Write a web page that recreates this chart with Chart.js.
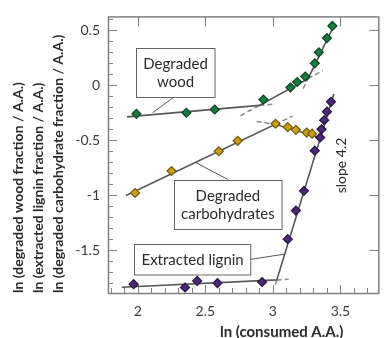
<!DOCTYPE html>
<html>
<head>
<meta charset="utf-8">
<script src="https://cdn.jsdelivr.net/npm/chart.js@4.4.0/dist/chart.umd.min.js"></script>
<style>
  html, body { margin: 0; padding: 0; background: #fff; }
  #wrap { width: 384px; height: 338px; }
</style>
</head>
<body>
<div id="wrap"><canvas id="myChart"></canvas></div>
<script>
// measured points
const woodX = [1.99, 2.36, 2.57, 2.93, 3.13, 3.18, 3.24, 3.31, 3.34, 3.40, 3.44];
const woodY = [-0.26, -0.25, -0.22, -0.13, -0.02, 0.03, 0.08, 0.20, 0.30, 0.43, 0.54];
const carbX = [1.98, 2.25, 2.60, 2.74, 3.02, 3.11, 3.17, 3.25, 3.29];
const carbY = [-0.98, -0.78, -0.60, -0.505, -0.35, -0.38, -0.405, -0.43, -0.44];
const ligninX = [1.97, 2.35, 2.44, 2.59, 2.92, 3.11, 3.17, 3.23, 3.31, 3.35, 3.36, 3.38, 3.40, 3.43];
const ligninY = [-1.81, -1.84, -1.78, -1.80, -1.79, -1.40, -1.14, -0.96, -0.595, -0.475, -0.40, -0.317, -0.24, -0.15];

// fitted segments (solid) and their dashed extensions
const woodFitX = [1.92, 2.90, 3.26, 3.46];
const woodFitY = [-0.287, -0.183, 0.061, 0.563];
const carbFitX = [1.913, 3.018, 3.32];
const carbFitY = [-1.002, -0.355, -0.466];
const ligninFitX = [1.882, 3.029, 3.451];
const ligninFitY = [-1.838, -1.771, -0.08];
const dashX = [[2.76, 2.90], [2.90, 3.01], [3.225, 3.26], [3.26, 3.37], [2.88, 3.018], [3.018, 3.145], [3.029, 3.116], [3.029, 3.011]];
const dashY = [[-0.277, -0.183], [-0.183, -0.171], [-0.03, 0.061], [0.061, 0.136], [-0.33, -0.355], [-0.355, -0.281], [-1.771, -1.766], [-1.771, -1.84]];

const xTicks = [2, 2.5, 3, 3.5];
const yTicks = [-1.5, -1, -0.5, 0, 0.5];
const yTitle = ['ln (degraded wood fraction / A.A.)', 'ln (extracted lignin fraction / A.A.)', 'ln (degraded carbohydrate fraction / A.A.)'];
const xTitle = 'ln (consumed A.A.)';

const notes = [
  { text: ['Degraded', 'wood'], at: [2.28, 0.12], lead: [[2.275, -0.10], [2.11, -0.25]] },
  { text: ['Degraded', 'carbohydrates'], at: [2.667, -1.084], lead: [[2.667, -0.857], [2.43, -0.704]] },
  { text: ['Extracted lignin'], at: [2.406, -1.581], lead: [[2.804, -1.59], [3.087, -1.536]] }
];
const slopeLabel = { text: 'slope 4.2', at: [3.51, -0.73] };

const pts = (xs, ys) => xs.map((x, i) => ({ x: x, y: ys[i] }));

function markers(xs, ys, fill, edge) {
  return { data: pts(xs, ys), showLine: false, pointStyle: 'rectRot', pointRadius: 4.5,
    backgroundColor: fill, borderColor: edge, borderWidth: 1.2 };
}
function fitLine(xs, ys) {
  return { data: pts(xs, ys), showLine: true, pointRadius: 0, borderColor: '#585858', borderWidth: 1.6 };
}

const datasets = [
  markers(woodX, woodY, '#1c7a43', '#0d4424'),
  markers(carbX, carbY, '#c89e1a', '#735808'),
  markers(ligninX, ligninY, '#4a2a76', '#261342'),
  fitLine(woodFitX, woodFitY),
  fitLine(carbFitX, carbFitY),
  fitLine(ligninFitX, ligninFitY)
];
dashX.forEach((xs, i) => {
  datasets.push({ data: pts(xs, dashY[i]), showLine: true, pointRadius: 0,
    borderColor: '#8a8a8a', borderWidth: 1.5, borderDash: [5, 3] });
});

const frame = {
  id: 'frame',
  beforeDatasetsDraw(chart) {
    const { ctx, chartArea: a, scales: { x, y } } = chart;
    ctx.save();
    ctx.strokeStyle = '#808080';
    ctx.lineWidth = 1.5;
    ctx.strokeRect(a.left + 0.5, a.top + 0.5, a.right - a.left, a.bottom - a.top);
    ctx.lineWidth = 1;
    ctx.beginPath();
    for (let i = -18; i <= 6; i++) {
      const v = i / 10, py = Math.round(y.getPixelForValue(v)) + 0.5;
      const major = yTicks.includes(v);
      ctx.moveTo(a.left, py); ctx.lineTo(a.left + (major ? 9 : 5), py);
      if (major) { ctx.moveTo(a.right, py); ctx.lineTo(a.right - 9, py); }
    }
    for (let i = 18; i <= 37; i++) {
      const v = i / 10, px = Math.round(x.getPixelForValue(v)) + 0.5;
      const major = xTicks.includes(v);
      ctx.moveTo(px, a.bottom); ctx.lineTo(px, a.bottom - (major ? 8 : 5));
      if (major) { ctx.moveTo(px, a.top); ctx.lineTo(px, a.top + 10); }
    }
    ctx.stroke();
    ctx.restore();
  },
  afterDatasetsDraw(chart) {
    const { ctx, chartArea: a, scales: { x, y } } = chart;
    ctx.save();
    ctx.font = '15px Lato';
    ctx.textAlign = 'center';
    ctx.textBaseline = 'middle';
    notes.forEach(n => {
      ctx.strokeStyle = '#555';
      ctx.lineWidth = 1;
      ctx.beginPath();
      ctx.moveTo(x.getPixelForValue(n.lead[0][0]), y.getPixelForValue(n.lead[0][1]));
      ctx.lineTo(x.getPixelForValue(n.lead[1][0]), y.getPixelForValue(n.lead[1][1]));
      ctx.stroke();
      const w = Math.max(...n.text.map(t => ctx.measureText(t).width)) + 14;
      const h = n.text.length * 18.5 + 12;
      const cx = x.getPixelForValue(n.at[0]), cy = y.getPixelForValue(n.at[1]);
      const l = Math.round(cx - w / 2) + 0.5, t = Math.round(cy - h / 2) + 0.5;
      ctx.fillStyle = '#fff';
      ctx.fillRect(l, t, w, h);
      ctx.strokeStyle = '#666';
      ctx.strokeRect(l, t, w, h);
      ctx.fillStyle = '#2b2b2b';
      n.text.forEach((s, i) => ctx.fillText(s, cx, t + 6 + 9.25 + i * 18.5));
    });
    // slope label
    ctx.save();
    ctx.translate(x.getPixelForValue(slopeLabel.at[0]), y.getPixelForValue(slopeLabel.at[1]));
    ctx.rotate(-Math.PI / 2);
    ctx.font = '14px Lato';
    ctx.fillText(slopeLabel.text, 0, 0);
    ctx.restore();
    // x axis title
    ctx.font = 'bold 15px Lato';
    ctx.fillText(xTitle, x.getPixelForValue(3.065), a.bottom + 39);
    ctx.restore();
  }
};

const ctx = document.getElementById('myChart');

new Chart(ctx, {
  type: 'scatter',
  data: { datasets: datasets },
  options: {
    responsive: true,
    maintainAspectRatio: false,
    animation: false,
    layout: { padding: { top: 15, right: 0, left: 0, bottom: 0 } },
    plugins: { legend: { display: false }, tooltip: { enabled: false } },
    scales: {
      x: {
        type: 'linear', min: 1.78, max: 3.78,
        afterBuildTicks: s => { s.ticks = xTicks.map(v => ({ value: v })); },
        afterFit: s => { s.height = 45; },
        grid: { display: false, drawTicks: false },
        border: { display: false },
        ticks: { autoSkip: false, maxRotation: 0, padding: 10, color: '#3a3a3a',
          font: { family: 'Lato', size: 14 }, callback: v => String(v) }
      },
      y: {
        type: 'linear', min: -1.89, max: 0.627,
        afterBuildTicks: s => { s.ticks = yTicks.map(v => ({ value: v })); },
        afterFit: s => { s.width = 108; },
        grid: { display: false, drawTicks: false },
        border: { display: false },
        ticks: { autoSkip: false, padding: 8, color: '#3a3a3a',
          font: { family: 'Lato', size: 14 }, callback: v => String(v) },
        title: { display: true, text: yTitle, align: 'start', color: '#2b2b2b',
          font: { family: 'Lato', size: 14, weight: 'bold', lineHeight: '20px' },
          padding: { top: 8, bottom: 0 } }
      }
    }
  },
  plugins: [frame]
});
</script>
</body>
</html>
